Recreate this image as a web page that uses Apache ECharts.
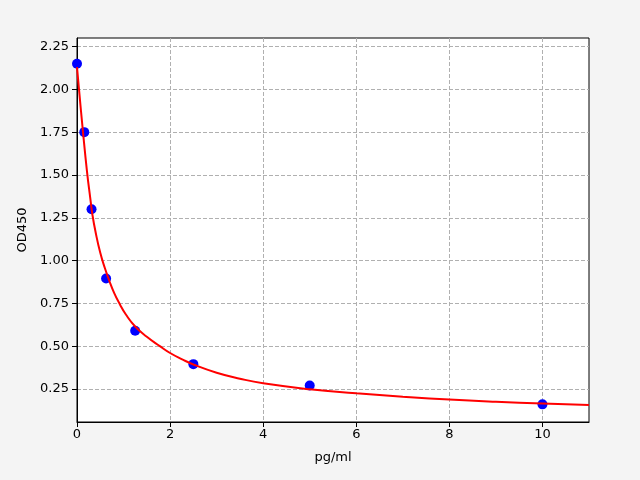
<!DOCTYPE html>
<html>
<head>
<meta charset="utf-8">
<script src="https://cdn.jsdelivr.net/npm/echarts@6/dist/echarts.min.js"></script>
<style>
  html, body { margin: 0; padding: 0; background: #f4f4f4; }
  #chart { width: 640px; height: 480px; }
</style>
</head>
<body>
<div id="chart"></div>
<script>
// 标准点 (standards)
const stdConc = [0, 0.156, 0.3125, 0.625, 1.25, 2.5, 5, 10];
const stdOD = [2.15, 1.75, 1.30, 0.895, 0.59, 0.395, 0.27, 0.16];

// 拟合曲线
const fitX = [0, 0.043, 0.129, 0.215, 0.287, 0.33, 0.40, 0.50, 0.60, 0.69, 0.80, 0.92, 1.05, 1.25, 1.5, 1.78, 2, 2.26, 2.5, 3, 3.5, 4, 5, 6, 7, 8, 9, 10, 11];
const fitY = [2.13, 2.00, 1.75, 1.52, 1.36, 1.27, 1.165, 1.045, 0.955, 0.885, 0.81, 0.745, 0.685, 0.615, 0.555, 0.50, 0.46, 0.423, 0.393, 0.345, 0.31, 0.283, 0.248, 0.225, 0.205, 0.188, 0.175, 0.165, 0.157];

const xTicks = [0, 2, 4, 6, 8, 10];
const yTicks = [0.25, 0.5, 0.75, 1.0, 1.25, 1.5, 1.75, 2.0, 2.25];

const chart = echarts.init(document.getElementById('chart'));
const font = 'DejaVu Sans';

const option = {
  backgroundColor: '#f4f4f4',
  animation: false,
  grid: {
    left: 77, right: 51, top: 38, bottom: 58,
    show: true, backgroundColor: '#ffffff',
    borderColor: '#000', borderWidth: 1
  },
  xAxis: {
    type: 'value',
    min: 0, max: 11,
    name: 'pg/ml', nameLocation: 'middle', nameGap: 29,
    nameTextStyle: { color: '#000', fontSize: 13, fontFamily: font },
    axisLine: { lineStyle: { color: '#000' } },
    axisTick: { length: 5, lineStyle: { color: '#000' }, customValues: xTicks },
    axisLabel: { color: '#000', fontSize: 13, fontFamily: font, margin: 6, customValues: xTicks },
    splitLine: { show: true, lineStyle: { color: '#b0b0b0', type: [4, 2] } }
  },
  yAxis: {
    type: 'value',
    min: 0.057, max: 2.30,
    name: 'OD450', nameLocation: 'middle', nameGap: 48, nameRotate: 90,
    nameTextStyle: { color: '#000', fontSize: 13, fontFamily: font },
    axisLine: { show: true, lineStyle: { color: '#000' } },
    axisTick: { show: true, length: 5, lineStyle: { color: '#000' }, customValues: yTicks },
    axisLabel: {
      color: '#000', fontSize: 13, fontFamily: font, margin: 8,
      customValues: yTicks,
      formatter: v => v.toFixed(2)
    },
    splitLine: { show: true, lineStyle: { color: '#b0b0b0', type: [4, 2] } }
  },
  series: [
    {
      type: 'scatter',
      data: stdConc.map((x, i) => [x, stdOD[i]]),
      symbolSize: 10,
      itemStyle: { color: '#0000ff', opacity: 1 },
      z: 2
    },
    {
      type: 'line',
      data: fitX.map((x, i) => [x, fitY[i]]),
      smooth: 0.5,
      showSymbol: false,
      lineStyle: { color: '#ff0000', width: 2 },
      z: 3
    }
  ]
};

chart.setOption(option);
</script>
</body>
</html>
